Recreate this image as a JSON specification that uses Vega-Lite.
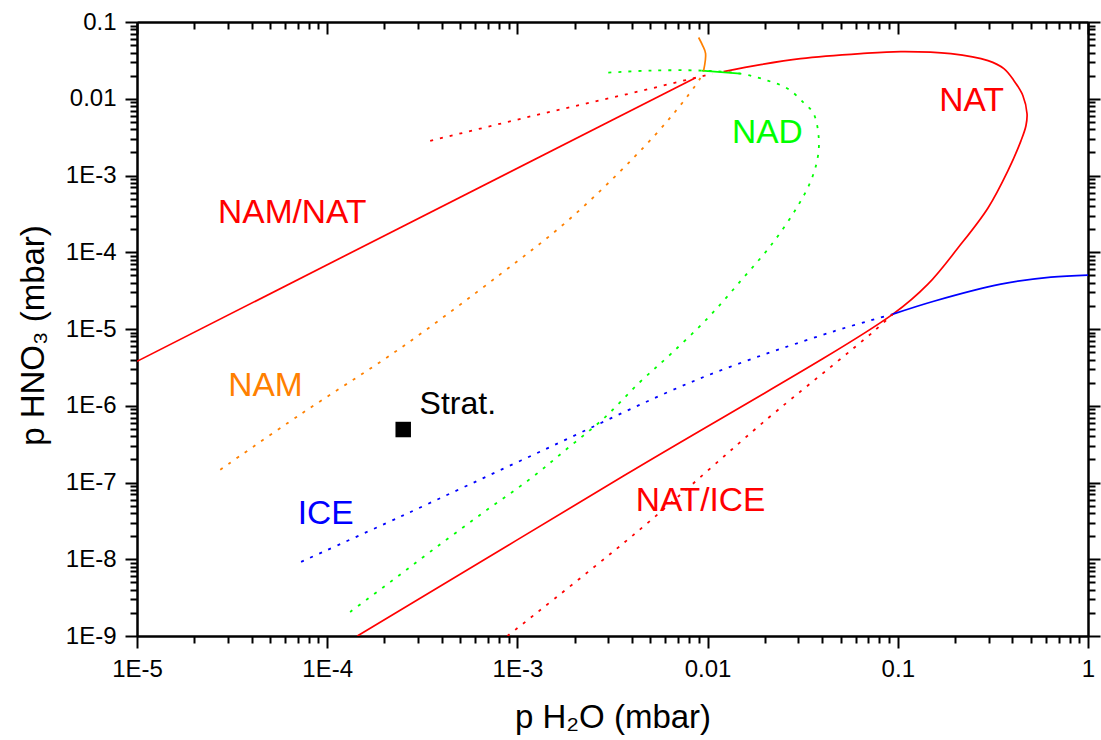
{
  "$schema": "https://vega.github.io/schema/vega-lite/v6.json",
  "width": 951,
  "height": 614,
  "autosize": {"type": "none"},
  "padding": {"left": 137, "top": 22, "right": 13, "bottom": 104},
  "background": "white",
  "config": {
    "view": {"stroke": null},
    "font": "Liberation Sans",
    "axis": {
      "grid": false,
      "domainColor": "black",
      "domainWidth": 2,
      "tickColor": "black",
      "tickWidth": 2,
      "labelColor": "black",
      "titleColor": "black",
      "labelFont": "Liberation Sans",
      "titleFont": "Liberation Sans",
      "titleFontWeight": "normal",
      "labelFlush": false,
      "labelOverlap": false
    }
  },
  "datasets": {
    "curves": [
      {"s": "nn", "i": 1, "x": 1e-5, "y": 3.79e-6},
      {"s": "nn", "i": 2, "x": 8.65e-3, "y": 0.0188},
      {"s": "nnd", "i": 1, "x": 3.48e-4, "y": 2.83e-3},
      {"s": "nnd", "i": 2, "x": 1.21e-3, "y": 6.01e-3},
      {"s": "nnd", "i": 3, "x": 4.08e-3, "y": 0.0120},
      {"s": "nnd", "i": 4, "x": 0.0106, "y": 0.0212},
      {"s": "nat", "i": 1, "x": 0.01213, "y": 0.02254},
      {"s": "nat", "i": 2, "x": 0.0190, "y": 0.02786},
      {"s": "nat", "i": 3, "x": 0.0308, "y": 0.03334},
      {"s": "nat", "i": 4, "x": 0.0638, "y": 0.0388},
      {"s": "nat", "i": 5, "x": 0.1037, "y": 0.0412},
      {"s": "nat", "i": 6, "x": 0.190, "y": 0.0388},
      {"s": "nat", "i": 7, "x": 0.298, "y": 0.0314},
      {"s": "nat", "i": 8, "x": 0.3612, "y": 0.0247},
      {"s": "nat", "i": 9, "x": 0.408, "y": 0.01722},
      {"s": "nat", "i": 10, "x": 0.4548, "y": 0.01096},
      {"s": "nat", "i": 11, "x": 0.478, "y": 6.38e-3},
      {"s": "nat", "i": 12, "x": 0.4718, "y": 4.45e-3},
      {"s": "nat", "i": 13, "x": 0.444, "y": 2.83e-3},
      {"s": "nat", "i": 14, "x": 0.379, "y": 1.15e-3},
      {"s": "nat", "i": 15, "x": 0.298, "y": 3.78e-4},
      {"s": "nat", "i": 16, "x": 0.207, "y": 1.135e-4},
      {"s": "nat", "i": 17, "x": 0.144, "y": 3.84e-5},
      {"s": "nat", "i": 18, "x": 0.0942, "y": 1.56e-5},
      {"s": "nat", "i": 19, "x": 3.68e-3, "y": 1.25e-7},
      {"s": "nat", "i": 20, "x": 1.44e-4, "y": 1e-9},
      {"s": "nid", "i": 1, "x": 8.86e-4, "y": 1e-9},
      {"s": "nid", "i": 2, "x": 4.08e-3, "y": 2.08e-8},
      {"s": "nid", "i": 3, "x": 0.0207, "y": 6.82e-7},
      {"s": "nid", "i": 4, "x": 0.0461, "y": 3.46e-6},
      {"s": "nid", "i": 5, "x": 0.0748, "y": 9.33e-6},
      {"s": "nid", "i": 6, "x": 0.0942, "y": 1.56e-5},
      {"s": "iced", "i": 1, "x": 7.29e-5, "y": 9.25e-9},
      {"s": "iced", "i": 2, "x": 2.42e-4, "y": 3.58e-8},
      {"s": "iced", "i": 3, "x": 1.32e-3, "y": 2.53e-7},
      {"s": "iced", "i": 4, "x": 9.18e-3, "y": 2.28e-6},
      {"s": "iced", "i": 5, "x": 0.0461, "y": 9.33e-6},
      {"s": "iced", "i": 6, "x": 0.0942, "y": 1.56e-5},
      {"s": "ice", "i": 1, "x": 0.0942, "y": 1.56e-5},
      {"s": "ice", "i": 2, "x": 0.1546, "y": 2.30e-5},
      {"s": "ice", "i": 3, "x": 0.348, "y": 3.84e-5},
      {"s": "ice", "i": 4, "x": 0.638, "y": 4.74e-5},
      {"s": "ice", "i": 5, "x": 1.0, "y": 5.04e-5},
      {"s": "nadd", "i": 1, "x": 1.32e-4, "y": 2.06e-9},
      {"s": "nadd", "i": 2, "x": 2.15e-4, "y": 5.07e-9},
      {"s": "nadd", "i": 3, "x": 3.48e-4, "y": 1.25e-8},
      {"s": "nadd", "i": 4, "x": 6.38e-4, "y": 3.80e-8},
      {"s": "nadd", "i": 5, "x": 1.17e-3, "y": 1.12e-7},
      {"s": "nadd", "i": 6, "x": 1.83e-3, "y": 2.77e-7},
      {"s": "nadd", "i": 7, "x": 2.84e-3, "y": 6.82e-7},
      {"s": "nadd", "i": 8, "x": 4.44e-3, "y": 2.07e-6},
      {"s": "nadd", "i": 9, "x": 6.38e-3, "y": 4.68e-6},
      {"s": "nadd", "i": 10, "x": 0.0100, "y": 1.38e-5},
      {"s": "nadd", "i": 11, "x": 0.0149, "y": 4.21e-5},
      {"s": "nadd", "i": 12, "x": 0.0220, "y": 1.32e-4},
      {"s": "nadd", "i": 13, "x": 0.0298, "y": 4.01e-4},
      {"s": "nadd", "i": 14, "x": 0.0349, "y": 8.51e-4},
      {"s": "nadd", "i": 15, "x": 0.0379, "y": 1.70e-3},
      {"s": "nadd", "i": 16, "x": 0.0384, "y": 3.10e-3},
      {"s": "nadd", "i": 17, "x": 0.0361, "y": 6.38e-3},
      {"s": "nadd", "i": 18, "x": 0.0320, "y": 8.89e-3},
      {"s": "nadd", "i": 19, "x": 0.0264, "y": 0.01352},
      {"s": "nadd", "i": 20, "x": 0.0207, "y": 0.01722},
      {"s": "nadd", "i": 21, "x": 0.0149, "y": 0.02124},
      {"s": "nadd", "i": 22, "x": 9.29e-3, "y": 0.02328},
      {"s": "nadd", "i": 23, "x": 5.01e-3, "y": 0.02328},
      {"s": "nadd", "i": 24, "x": 2.98e-3, "y": 0.02187},
      {"s": "nad", "i": 1, "x": 9.29e-3, "y": 0.02328},
      {"s": "nad", "i": 2, "x": 0.0149, "y": 0.02124},
      {"s": "namd", "i": 1, "x": 2.74e-5, "y": 1.47e-7},
      {"s": "namd", "i": 2, "x": 7.21e-5, "y": 7.69e-7},
      {"s": "namd", "i": 3, "x": 2.42e-4, "y": 5.60e-6},
      {"s": "namd", "i": 4, "x": 8.15e-4, "y": 5.19e-5},
      {"s": "namd", "i": 5, "x": 1.83e-3, "y": 2.55e-4},
      {"s": "namd", "i": 6, "x": 4.08e-3, "y": 1.70e-3},
      {"s": "namd", "i": 7, "x": 6.62e-3, "y": 6.38e-3},
      {"s": "namd", "i": 8, "x": 9.18e-3, "y": 0.0188},
      {"s": "namd", "i": 9, "x": 9.53e-3, "y": 0.02328},
      {"s": "nam", "i": 1, "x": 9.53e-3, "y": 0.02328},
      {"s": "nam", "i": 2, "x": 9.76e-3, "y": 0.0388},
      {"s": "nam", "i": 3, "x": 9.42e-3, "y": 0.0493},
      {"s": "nam", "i": 4, "x": 8.97e-3, "y": 0.0628}
    ],
    "labels": [
      {"label": "NAM/NAT", "x": 6.55e-5, "y": 2.43e-4},
      {"label": "NAM", "x": 4.74e-5, "y": 1.35e-6},
      {"label": "ICE", "x": 9.82e-5, "y": 2.88e-8},
      {"label": "NAD", "x": 0.0206, "y": 2.69e-3},
      {"label": "NAT", "x": 0.2443, "y": 6.98e-3},
      {"label": "NAT/ICE", "x": 9.18e-3, "y": 4.29e-8}
    ],
    "strat": [
      {"label": "Strat.", "x": 2.51e-4, "y": 4.90e-7, "tx": 3.06e-4, "ty": 7.86e-7}
    ]
  },
  "data": {"name": "curves"},
  "encoding": {
    "x": {"field": "x", "type": "quantitative", "scale": {"type": "log", "domain": [1e-5, 1], "nice": false}, "axis": null},
    "y": {"field": "y", "type": "quantitative", "scale": {"type": "log", "domain": [1e-9, 0.1], "nice": false}, "axis": null},
    "order": {"field": "i", "type": "quantitative"}
  },
  "layer": [
    {"transform": [{"filter": "datum.s == 'nnd'"}], "mark": {"type": "line", "color": "#ff0000", "strokeWidth": 1.8, "strokeDash": [3, 7], "clip": true}},
    {"transform": [{"filter": "datum.s == 'nid'"}], "mark": {"type": "line", "color": "#ff0000", "strokeWidth": 1.8, "strokeDash": [3, 7], "interpolate": "catmull-rom", "clip": true}},
    {"transform": [{"filter": "datum.s == 'iced'"}], "mark": {"type": "line", "color": "#0000ff", "strokeWidth": 1.8, "strokeDash": [3, 7], "interpolate": "catmull-rom", "clip": true}},
    {"transform": [{"filter": "datum.s == 'nadd'"}], "mark": {"type": "line", "color": "#00ff00", "strokeWidth": 1.8, "strokeDash": [3, 7], "interpolate": "catmull-rom", "clip": true}},
    {"transform": [{"filter": "datum.s == 'namd'"}], "mark": {"type": "line", "color": "#ff8000", "strokeWidth": 1.8, "strokeDash": [3, 7], "interpolate": "catmull-rom", "clip": true}},
    {"transform": [{"filter": "datum.s == 'nn'"}], "mark": {"type": "line", "color": "#ff0000", "strokeWidth": 1.7, "clip": true}},
    {"transform": [{"filter": "datum.s == 'nat'"}], "mark": {"type": "line", "color": "#ff0000", "strokeWidth": 1.7, "interpolate": "catmull-rom", "clip": true}},
    {"transform": [{"filter": "datum.s == 'ice'"}], "mark": {"type": "line", "color": "#0000ff", "strokeWidth": 1.7, "interpolate": "catmull-rom", "clip": true}},
    {"transform": [{"filter": "datum.s == 'nad'"}], "mark": {"type": "line", "color": "#00ff00", "strokeWidth": 1.7, "clip": true}},
    {"transform": [{"filter": "datum.s == 'nam'"}], "mark": {"type": "line", "color": "#ff8000", "strokeWidth": 1.7, "interpolate": "catmull-rom", "clip": true}},
    {
      "data": {"name": "strat"},
      "mark": {"type": "square", "filled": true, "color": "black", "size": 240, "opacity": 1},
      "encoding": {
        "x": {"field": "x", "type": "quantitative", "axis": null},
        "y": {"field": "y", "type": "quantitative", "axis": null}
      }
    },
    {
      "data": {"name": "strat"},
      "mark": {"type": "text", "align": "left", "baseline": "alphabetic", "fontSize": 32, "font": "Liberation Sans", "color": "black"},
      "encoding": {
        "x": {"field": "tx", "type": "quantitative", "axis": null},
        "y": {"field": "ty", "type": "quantitative", "axis": null},
        "text": {"field": "label"}
      }
    },
    {
      "data": {"name": "labels"},
      "mark": {"type": "text", "align": "center", "baseline": "alphabetic", "fontSize": 33.5, "font": "Liberation Sans"},
      "encoding": {
        "x": {"field": "x", "type": "quantitative", "axis": null},
        "y": {"field": "y", "type": "quantitative", "axis": null},
        "text": {"field": "label"},
        "color": {"field": "label", "type": "nominal", "legend": null,
          "scale": {"domain": ["NAM/NAT", "NAM", "ICE", "NAD", "NAT", "NAT/ICE"],
                    "range": ["#ff0000", "#ff8000", "#0000ff", "#00ff00", "#ff0000", "#ff0000"]}}
      }
    },
    {
      "transform": [{"filter": "datum.s == 'nn'"}],
      "mark": {"type": "point", "opacity": 0},
      "encoding": {
        "x": {"field": "x", "type": "quantitative", "axis": {
          "orient": "bottom", "values": [1e-5, 1e-4, 1e-3, 0.01, 0.1, 1], "tickSize": 12, "labelPadding": 9,
          "labelFontSize": 24, "labelExpr": "datum.value >= 0.01 ? '' + datum.value : '1E' + round(log(datum.value)/LN10)",
          "title": "p H₂O (mbar)", "titleFontSize": 33, "titleBaseline": "alphabetic", "titleY": 91, "titleAlign": "center"}},
        "y": {"field": "y", "type": "quantitative", "axis": {
          "orient": "left", "values": [1e-9, 1e-8, 1e-7, 1e-6, 1e-5, 1e-4, 1e-3, 0.01, 0.1], "tickSize": 12, "labelPadding": 9,
          "labelFontSize": 24, "labelExpr": "datum.value >= 0.01 ? '' + datum.value : '1E' + round(log(datum.value)/LN10)",
          "title": "p HNO₃ (mbar)", "titleFontSize": 33, "titleBaseline": "alphabetic", "titleX": -94, "titleY": 313, "titleAlign": "center", "titleAngle": 270}}
      }
    },
    {
      "transform": [{"filter": "datum.s == 'nn'"}],
      "mark": {"type": "point", "opacity": 0},
      "encoding": {
        "x": {"field": "x", "type": "quantitative", "axis": {
          "orient": "bottom", "labels": false, "title": null, "tickSize": 7,
          "values": [2e-5, 3e-5, 4e-5, 5e-5, 6e-5, 7e-5, 8e-5, 9e-5, 2e-4, 3e-4, 4e-4, 5e-4, 6e-4, 7e-4, 8e-4, 9e-4, 0.002, 0.003, 0.004, 0.005, 0.006, 0.007, 0.008, 0.009, 0.02, 0.03, 0.04, 0.05, 0.06, 0.07, 0.08, 0.09, 0.2, 0.3, 0.4, 0.5, 0.6, 0.7, 0.8, 0.9]}},
        "y": {"field": "y", "type": "quantitative", "axis": {
          "orient": "left", "labels": false, "title": null, "tickSize": 7,
          "values": [2e-9, 3e-9, 4e-9, 5e-9, 6e-9, 7e-9, 8e-9, 9e-9, 2e-8, 3e-8, 4e-8, 5e-8, 6e-8, 7e-8, 8e-8, 9e-8, 2e-7, 3e-7, 4e-7, 5e-7, 6e-7, 7e-7, 8e-7, 9e-7, 2e-6, 3e-6, 4e-6, 5e-6, 6e-6, 7e-6, 8e-6, 9e-6, 2e-5, 3e-5, 4e-5, 5e-5, 6e-5, 7e-5, 8e-5, 9e-5, 2e-4, 3e-4, 4e-4, 5e-4, 6e-4, 7e-4, 8e-4, 9e-4, 0.002, 0.003, 0.004, 0.005, 0.006, 0.007, 0.008, 0.009, 0.02, 0.03, 0.04, 0.05, 0.06, 0.07, 0.08, 0.09]}}
      }
    },
    {
      "transform": [{"filter": "datum.s == 'nn'"}],
      "mark": {"type": "point", "opacity": 0},
      "encoding": {
        "x": {"field": "x", "type": "quantitative", "axis": {
          "orient": "top", "labels": false, "title": null, "tickSize": -12,
          "values": [1e-5, 1e-4, 1e-3, 0.01, 0.1, 1]}},
        "y": {"field": "y", "type": "quantitative", "axis": {
          "orient": "right", "labels": false, "title": null, "tickSize": 12,
          "values": [1e-9, 1e-8, 1e-7, 1e-6, 1e-5, 1e-4, 1e-3, 0.01, 0.1]}}
      }
    },
    {
      "transform": [{"filter": "datum.s == 'nn'"}],
      "mark": {"type": "point", "opacity": 0},
      "encoding": {
        "x": {"field": "x", "type": "quantitative", "axis": {
          "orient": "top", "labels": false, "title": null, "tickSize": -7,
          "values": [2e-5, 3e-5, 4e-5, 5e-5, 6e-5, 7e-5, 8e-5, 9e-5, 2e-4, 3e-4, 4e-4, 5e-4, 6e-4, 7e-4, 8e-4, 9e-4, 0.002, 0.003, 0.004, 0.005, 0.006, 0.007, 0.008, 0.009, 0.02, 0.03, 0.04, 0.05, 0.06, 0.07, 0.08, 0.09, 0.2, 0.3, 0.4, 0.5, 0.6, 0.7, 0.8, 0.9]}},
        "y": {"field": "y", "type": "quantitative", "axis": {
          "orient": "right", "labels": false, "title": null, "tickSize": 7,
          "values": [2e-9, 3e-9, 4e-9, 5e-9, 6e-9, 7e-9, 8e-9, 9e-9, 2e-8, 3e-8, 4e-8, 5e-8, 6e-8, 7e-8, 8e-8, 9e-8, 2e-7, 3e-7, 4e-7, 5e-7, 6e-7, 7e-7, 8e-7, 9e-7, 2e-6, 3e-6, 4e-6, 5e-6, 6e-6, 7e-6, 8e-6, 9e-6, 2e-5, 3e-5, 4e-5, 5e-5, 6e-5, 7e-5, 8e-5, 9e-5, 2e-4, 3e-4, 4e-4, 5e-4, 6e-4, 7e-4, 8e-4, 9e-4, 0.002, 0.003, 0.004, 0.005, 0.006, 0.007, 0.008, 0.009, 0.02, 0.03, 0.04, 0.05, 0.06, 0.07, 0.08, 0.09]}}
      }
    }
  ],
  "resolve": {"axis": {"x": "independent", "y": "independent"}}
}
